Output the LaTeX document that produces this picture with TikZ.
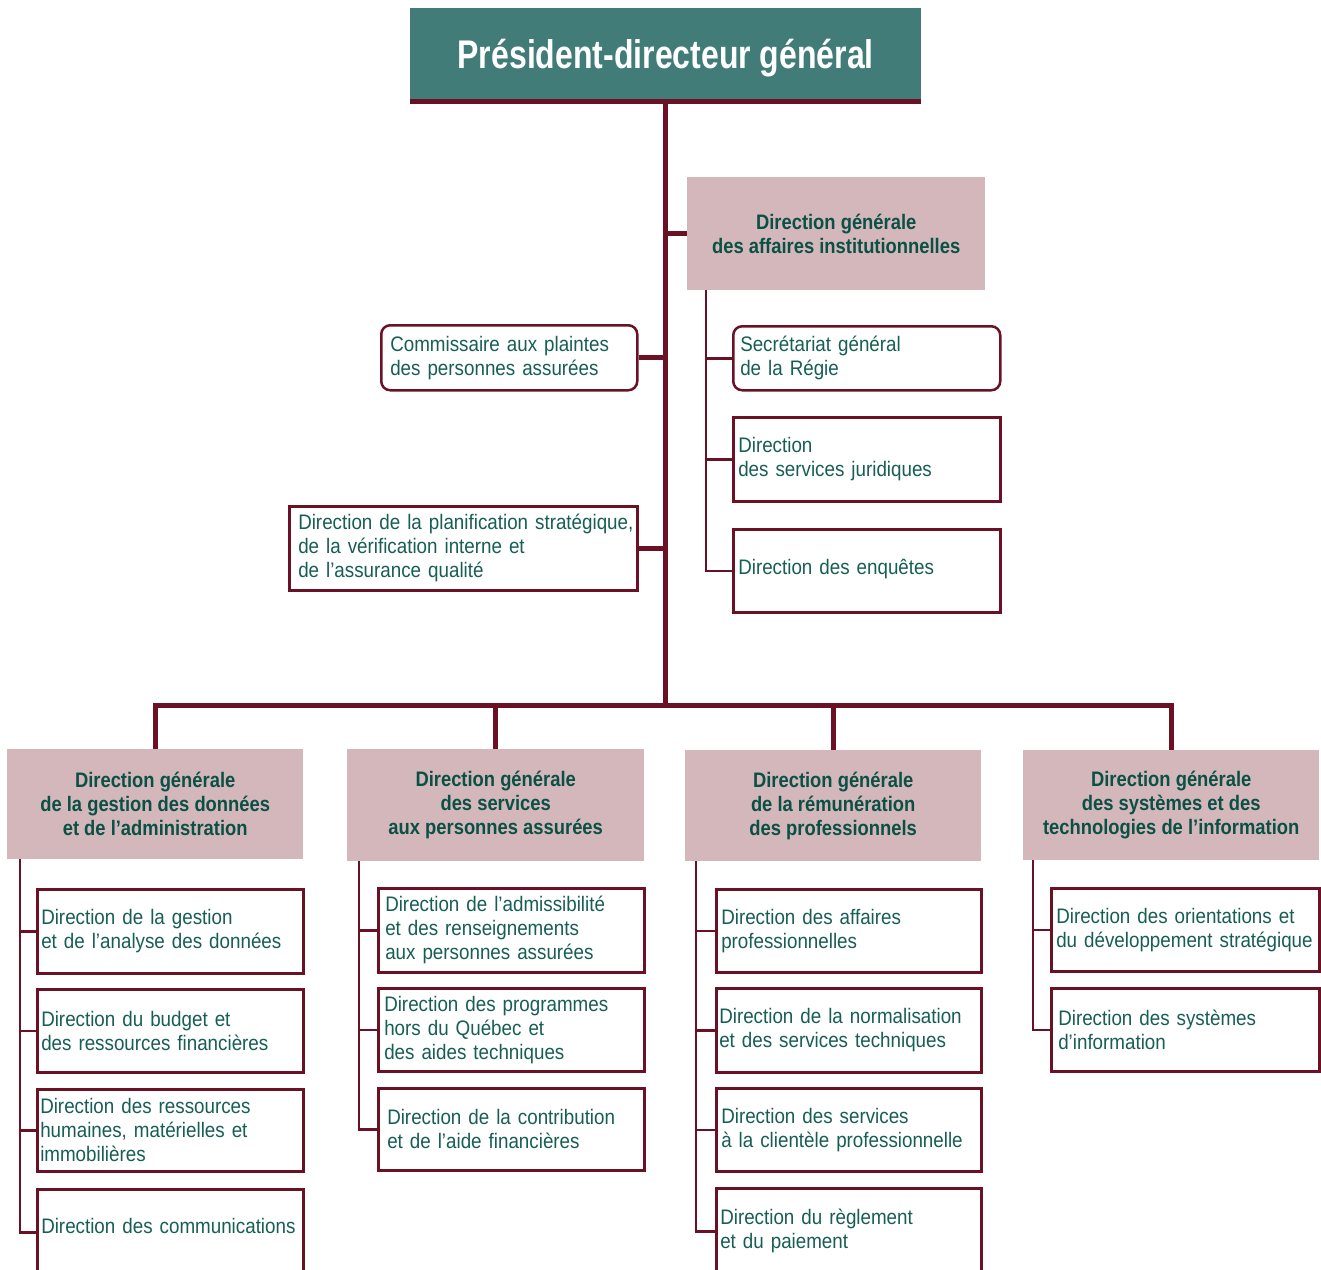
\documentclass[tikz,border=0pt]{standalone}
\usepackage{fontspec}
\newfontfamily\bodyfont{Liberation Sans}[FakeStretch=0.895]
\newfontfamily\headfont{Liberation Sans}[FakeStretch=0.875]
\newfontfamily\titlefont{Liberation Sans}[FakeStretch=0.8]
\definecolor{teal1}{HTML}{417C79}
\definecolor{maroon1}{HTML}{6A1125}
\definecolor{pink1}{HTML}{D3B7BB}
\definecolor{tgreen}{HTML}{175E55}
\definecolor{hgreen}{HTML}{0B5045}
\newcommand{\nb}[1]{\mbox{#1}}
\begin{document}
\begin{tikzpicture}[x=1pt,y=-1pt,
  unit box/.style={draw=maroon1, line width=2.5pt, fill=white, anchor=north west,
    align=left, inner xsep=5pt, inner ysep=0pt, text=tgreen,
    font=\bodyfont\fontsize{21}{24}\selectfont},
  ghead/.style={fill=pink1, anchor=north west, align=center, inner sep=0pt,
    text=hgreen, font=\headfont\bfseries\fontsize{21}{24}\selectfont},
  trunk/.style={draw=maroon1, line width=5pt},
  twig/.style={draw=maroon1, line width=2.5pt},
]
\useasboundingbox (0,0) rectangle (1321,1269);
\clip (0,0) rectangle (1321,1269);

% top
\node[fill=teal1, anchor=north west, minimum width=511pt, minimum height=91pt, inner sep=0pt,
  text height=37pt, text depth=8pt,
  text=white, font=\titlefont\bfseries\fontsize{40}{44}\selectfont] (pdg) at (410,8) {Président-directeur général};
\fill[maroon1] (pdg.south west) rectangle ([yshift=-5pt]pdg.south east);

% institutional branch
\node[ghead, minimum width=298pt, minimum height=113pt] (dgai) at (687,177)
  {Direction générale\\des affaires institutionnelles};
\node[unit box, rounded corners=9pt, inner xsep=7pt, minimum width=267pt, minimum height=64pt, text width=253pt] (sg) at (732,325)
  {\nb{Secrétariat général}\\\nb{de la Régie}};
\node[unit box, minimum width=267pt, minimum height=84pt, text width=257pt] (jur) at (732,416)
  {\nb{Direction}\\\nb{des services juridiques}};
\node[unit box, minimum width=267pt, minimum height=83pt, text width=257pt, text height=15pt, text depth=8pt] (enq) at (732,528)
  {\nb{Direction des enquêtes}};

\node[unit box, rounded corners=9pt, inner xsep=9pt, minimum width=256pt, minimum height=65pt, text width=238pt] (comm) at (380,324)
  {\nb{Commissaire aux plaintes}\\\nb{des personnes assurées}};
\node[unit box, inner xsep=9pt, minimum width=348pt, minimum height=84pt, text width=330pt] (planif) at (288,505)
  {\nb{Direction de la planification stratégique,}\\\nb{de la vérification interne et}\\\nb{de l’assurance qualité}};

% general directions
\node[ghead, minimum width=296pt, minimum height=110pt] (g1) at (7,749)
  {Direction générale\\de la gestion des données\\et de l’administration};
\node[ghead, minimum width=297pt, minimum height=112pt] (g2) at (347,749)
  {Direction générale\\des services\\aux personnes assurées};
\node[ghead, minimum width=296pt, minimum height=111pt] (g3) at (685,750)
  {Direction générale\\de la rémunération\\des professionnels};
\node[ghead, minimum width=296pt, minimum height=110pt] (g4) at (1023,750)
  {Direction générale\\des systèmes et des\\technologies de l’information};

% column 1
\node[unit box, inner xsep=4pt, minimum width=266pt, minimum height=84pt, text width=258pt] (c1a) at (36,888)
  {\nb{Direction de la gestion}\\\nb{et de l’analyse des données}};
\node[unit box, inner xsep=4pt, minimum width=266pt, minimum height=83pt, text width=258pt] (c1b) at (36,988)
  {\nb{Direction du budget et}\\\nb{des ressources financières}};
\node[unit box, inner xsep=3pt, minimum width=266pt, minimum height=82pt, text width=260pt] (c1c) at (36,1088)
  {\nb{Direction des ressources}\\\nb{humaines, matérielles et}\\\nb{immobilières}};
\node[unit box, inner xsep=4pt, minimum width=266pt, minimum height=86pt, text width=258pt, text height=15pt, text depth=12pt] (c1d) at (36,1188)
  {\nb{Direction des communications}};

% column 2
\node[unit box, inner xsep=7pt, minimum width=266pt, minimum height=84pt, text width=252pt] (c2a) at (377,887)
  {\nb{Direction de l’admissibilité}\\\nb{et des renseignements}\\\nb{aux personnes assurées}};
\node[unit box, inner xsep=6pt, minimum width=266pt, minimum height=83pt, text width=254pt] (c2b) at (377,987)
  {\nb{Direction des programmes}\\\nb{hors du Québec et}\\\nb{des aides techniques}};
\node[unit box, inner xsep=9pt, minimum width=266pt, minimum height=82pt, text width=248pt] (c2c) at (377,1087)
  {\nb{Direction de la contribution}\\\nb{et de l’aide financières}};

% column 3
\node[unit box, inner xsep=5pt, minimum width=265pt, minimum height=83pt, text width=255pt] (c3a) at (715,888)
  {\nb{Direction des affaires}\\\nb{professionnelles}};
\node[unit box, inner xsep=3pt, minimum width=265pt, minimum height=84pt, text width=259pt] (c3b) at (715,987)
  {\nb{Direction de la normalisation}\\\nb{et des services techniques}};
\node[unit box, inner xsep=5pt, minimum width=265pt, minimum height=83pt, text width=255pt] (c3c) at (715,1087)
  {\nb{Direction des services}\\\nb{à la clientèle professionnelle}};
\node[unit box, inner xsep=4pt, minimum width=265pt, minimum height=86pt, text width=257pt] (c3d) at (715,1187)
  {\nb{Direction du règlement}\\\nb{et du paiement}};

% column 4
\node[unit box, inner xsep=5pt, minimum width=268pt, minimum height=83pt, text width=258pt] (c4a) at (1050,887)
  {\nb{Direction des orientations et}\\\nb{du développement stratégique}};
\node[unit box, inner xsep=7pt, minimum width=268pt, minimum height=83pt, text width=254pt] (c4b) at (1050,987)
  {\nb{Direction des systèmes}\\\nb{d’information}};

% thick connectors
\coordinate (bus) at (664,705);
\draw[trunk] (pdg.south) -- (pdg.south |- bus);
\draw[trunk] (dgai.west) -- (dgai.west -| pdg.south);
\draw[trunk] (comm.east) -- (comm.east -| pdg.south);
\draw[trunk] (planif.east) -- (planif.east -| pdg.south);
\draw[trunk] (g1.north) |- (bus) -| (g4.north);
\draw[trunk] (g2.north) -- (g2.north |- bus);
\draw[trunk] (g3.north) -- (g3.north |- bus);

% thin connectors
\foreach \t in {sg,jur,enq}
  \draw[twig] ([xshift=19pt]dgai.south west) |- (\t.west);
\foreach \t in {c1a,c1b,c1c,c1d}
  \draw[twig] ([xshift=13pt]g1.south west) |- (\t.west);
\foreach \t in {c2a,c2b,c2c}
  \draw[twig] ([xshift=12pt]g2.south west) |- (\t.west);
\foreach \t in {c3a,c3b,c3c,c3d}
  \draw[twig] ([xshift=11pt]g3.south west) |- (\t.west);
\foreach \t in {c4a,c4b}
  \draw[twig] ([xshift=10pt]g4.south west) |- (\t.west);
\end{tikzpicture}
\end{document}
